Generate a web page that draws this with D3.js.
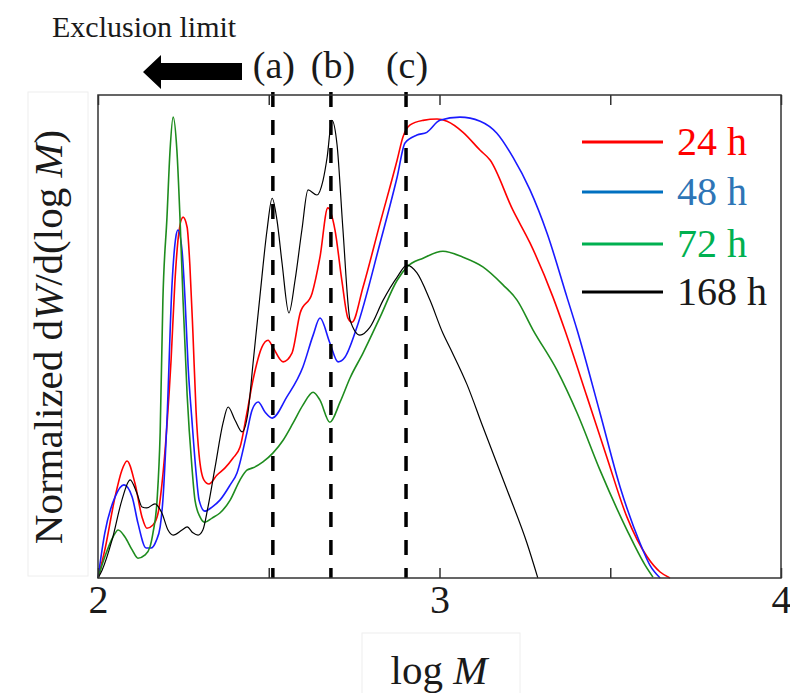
<!DOCTYPE html>
<html>
<head>
<meta charset="utf-8">
<script src="https://cdn.jsdelivr.net/npm/d3@7"></script>
<style>
  body { margin: 0; background: #fff; }
  svg text { font-family: "Liberation Serif", "Times New Roman", serif; fill: #1a1a1a; }
</style>
</head>
<body>
<div id="chart"></div>
<script>
// log M vs normalized dW/d(log M)
var h24 = [[2.000,0],[2.020,0.061],[2.050,0.176],[2.070,0.234],[2.085,0.254],[2.108,0.206],[2.129,0.132],[2.143,0.108],[2.161,0.115],[2.176,0.141],[2.187,0.202],[2.202,0.332],[2.214,0.473],[2.225,0.640],[2.237,0.751],[2.249,0.783],[2.261,0.761],[2.269,0.679],[2.278,0.531],[2.287,0.364],[2.296,0.267],[2.310,0.213],[2.325,0.204],[2.348,0.223],[2.372,0.239],[2.395,0.260],[2.416,0.284],[2.436,0.358],[2.454,0.430],[2.480,0.501],[2.498,0.516],[2.512,0.501],[2.542,0.469],[2.568,0.488],[2.592,0.575],[2.627,0.618],[2.650,0.696],[2.673,0.803],[2.694,0.755],[2.714,0.646],[2.732,0.564],[2.744,0.555],[2.776,0.631],[2.826,0.770],[2.876,0.907],[2.893,0.957],[2.914,0.983],[2.952,0.993],[2.993,0.996],[3.022,0.991],[3.069,0.967],[3.119,0.928],[3.148,0.907],[3.215,0.798],[3.265,0.727],[3.332,0.610],[3.367,0.538],[3.432,0.393],[3.490,0.262],[3.549,0.132],[3.608,0.046],[3.646,0.013],[3.675,0]];
var h48 = [[2.000,0],[2.020,0.098],[2.050,0.176],[2.076,0.202],[2.100,0.176],[2.117,0.119],[2.141,0.065],[2.155,0.065],[2.170,0.080],[2.182,0.111],[2.190,0.169],[2.202,0.343],[2.217,0.640],[2.228,0.740],[2.234,0.755],[2.246,0.711],[2.255,0.603],[2.264,0.458],[2.275,0.343],[2.287,0.230],[2.296,0.169],[2.313,0.145],[2.334,0.154],[2.357,0.169],[2.387,0.202],[2.407,0.228],[2.436,0.315],[2.451,0.364],[2.469,0.382],[2.489,0.360],[2.510,0.347],[2.553,0.393],[2.600,0.458],[2.630,0.527],[2.650,0.564],[2.679,0.510],[2.703,0.469],[2.723,0.479],[2.758,0.544],[2.826,0.727],[2.876,0.870],[2.899,0.944],[2.934,0.961],[2.963,0.967],[3.001,0.993],[3.060,1.000],[3.119,0.991],[3.168,0.965],[3.215,0.913],[3.265,0.842],[3.315,0.748],[3.373,0.610],[3.403,0.538],[3.470,0.358],[3.529,0.197],[3.587,0.076],[3.616,0.028],[3.646,0]];
var h72 = [[2.000,0],[2.020,0.046],[2.044,0.089],[2.059,0.104],[2.079,0.089],[2.100,0.061],[2.117,0.043],[2.138,0.050],[2.152,0.067],[2.161,0.098],[2.173,0.169],[2.182,0.315],[2.190,0.603],[2.202,0.783],[2.211,0.928],[2.220,1.000],[2.231,0.928],[2.240,0.783],[2.249,0.603],[2.261,0.397],[2.275,0.241],[2.284,0.169],[2.299,0.132],[2.313,0.121],[2.334,0.130],[2.357,0.141],[2.387,0.169],[2.416,0.213],[2.436,0.234],[2.454,0.239],[2.483,0.252],[2.512,0.271],[2.542,0.299],[2.571,0.336],[2.600,0.375],[2.630,0.403],[2.650,0.386],[2.679,0.338],[2.709,0.382],[2.738,0.434],[2.776,0.488],[2.826,0.566],[2.876,0.646],[2.905,0.675],[2.952,0.694],[3.010,0.709],[3.069,0.696],[3.127,0.675],[3.186,0.636],[3.227,0.603],[3.274,0.538],[3.344,0.451],[3.403,0.358],[3.470,0.234],[3.549,0.104],[3.602,0.028],[3.625,0.002]];
var h168 = [[2.000,0],[2.012,0.017],[2.041,0.082],[2.070,0.169],[2.094,0.213],[2.114,0.184],[2.129,0.154],[2.143,0.152],[2.167,0.161],[2.187,0.141],[2.205,0.104],[2.220,0.093],[2.246,0.104],[2.261,0.111],[2.278,0.098],[2.293,0.093],[2.307,0.104],[2.322,0.154],[2.343,0.241],[2.366,0.336],[2.381,0.371],[2.401,0.343],[2.422,0.317],[2.439,0.358],[2.454,0.466],[2.474,0.610],[2.495,0.755],[2.510,0.824],[2.524,0.777],[2.539,0.683],[2.559,0.575],[2.577,0.646],[2.597,0.755],[2.615,0.842],[2.641,0.831],[2.659,0.863],[2.671,0.913],[2.685,0.993],[2.700,0.940],[2.717,0.759],[2.738,0.560],[2.767,0.527],[2.796,0.544],[2.835,0.603],[2.876,0.653],[2.905,0.679],[2.934,0.662],[2.972,0.603],[3.010,0.531],[3.031,0.499],[3.081,0.419],[3.127,0.328],[3.198,0.191],[3.256,0.076],[3.288,0]];

var seriesNames = ["24 h", "48 h", "72 h", "168 h"];
var markers = [2.512, 2.682, 2.902];
var markerLabels = ["(a)", "(b)", "(c)"];
var xTicks = [2, 2.5, 3, 3.5, 4];

var width = 790, height = 693;
var margin = { top: 95, right: 9, bottom: 115, left: 98 };

var svg = d3.select("#chart").append("svg")
    .attr("width", width)
    .attr("height", height);

var x = d3.scaleLinear().domain([2, 4]).range([margin.left, width - margin.right]);
var y = d3.scaleLinear().domain([0, 1.048]).range([height - margin.bottom, margin.top]);

var lineColors = ["#ff0000", "#1a1aff", "#1e8c1e", "#000000"];
var lineWidths = [1.6, 1.6, 1.6, 1.2];
var legendColors = ["#ff0000", "#0070c0", "#00b050", "#000000"];
var textColors = ["#ff0000", "#2e75b6", "#00b050", "#1a1a1a"];

// faint boxes behind axis titles
svg.append("rect").attr("x", 28).attr("y", 92).attr("width", 60).attr("height", 484)
    .attr("fill", "none").attr("stroke", "#eeeeee");
svg.append("rect").attr("x", 362).attr("y", 633).attr("width", 158).attr("height", 70)
    .attr("fill", "none").attr("stroke", "#eeeeee");

var plot = svg.append("g");

var line = d3.line()
    .x(d => x(d[0]))
    .y(d => y(d[1]))
    .curve(d3.curveMonotoneX);

var allSeries = [h24, h48, h72, h168];

plot.selectAll("path.curve")
    .data(allSeries)
    .enter()
    .append("path")
    .attr("class", "curve")
    .attr("d", line)
    .attr("fill", "none")
    .attr("stroke", (d, i) => lineColors[i])
    .attr("stroke-width", (d, i) => lineWidths[i])
    .attr("stroke-linejoin", "round");

// dashed marker lines
plot.selectAll("line.marker")
    .data(markers)
    .enter()
    .append("line")
    .attr("class", "marker")
    .attr("x1", d => x(d)).attr("x2", d => x(d))
    .attr("y1", margin.top - 3).attr("y2", height - margin.bottom)
    .attr("stroke", "#000")
    .attr("stroke-width", 3.5)
    .attr("stroke-dasharray", "15,13");

svg.selectAll("text.mlabel")
    .data(markers)
    .enter()
    .append("text")
    .attr("class", "mlabel")
    .attr("x", (d, i) => x(d) + (i === 1 ? 2 : 1))
    .attr("y", 78)
    .attr("text-anchor", "middle")
    .style("font-size", "38px")
    .text((d, i) => markerLabels[i]);

// axes: inward ticks on bottom and top
var axisBottom = svg.append("g")
    .attr("transform", "translate(0," + (height - margin.bottom) + ")")
    .call(d3.axisBottom(x).tickValues(xTicks).tickSize(-10).tickPadding(7)
        .tickFormat(d => Number.isInteger(d) ? d : ""));
axisBottom.select(".domain").remove();
axisBottom.selectAll("text").style("font-size", "40px").style("font-family", "Liberation Serif").attr("fill", "#1a1a1a");
axisBottom.selectAll("line").attr("stroke", "#333").attr("stroke-width", 1.5);

var axisTop = svg.append("g")
    .attr("transform", "translate(0," + margin.top + ")")
    .call(d3.axisTop(x).tickValues(xTicks).tickSize(-10).tickFormat(""));
axisTop.select(".domain").remove();
axisTop.selectAll("line").attr("stroke", "#333").attr("stroke-width", 1.5);

svg.append("rect")
    .attr("x", x(2)).attr("y", y(1.048))
    .attr("width", x(4) - x(2)).attr("height", y(0) - y(1.048))
    .attr("fill", "none")
    .attr("stroke", "#333")
    .attr("stroke-width", 1.5);

// axis titles
var yTitle = svg.append("text")
    .attr("transform", "translate(62,337) rotate(-90)")
    .attr("text-anchor", "middle")
    .style("font-size", "41px");
yTitle.append("tspan").text("Normalized d");
yTitle.append("tspan").style("font-style", "italic").text("W");
yTitle.append("tspan").text("/d(log ");
yTitle.append("tspan").style("font-style", "italic").text("M");
yTitle.append("tspan").text(")");

var xTitle = svg.append("text")
    .attr("x", 439).attr("y", 684)
    .attr("text-anchor", "middle")
    .style("font-size", "41px");
xTitle.append("tspan").text("log ");
xTitle.append("tspan").style("font-style", "italic").text("M");

// exclusion limit note and arrow
svg.append("text")
    .attr("x", 52).attr("y", 37)
    .style("font-size", "30px")
    .text("Exclusion limit");

svg.append("path")
    .attr("d", "M143,72 L161,55 L161,63 L242,63 L242,80 L161,80 L161,89 Z")
    .attr("fill", "#000");

// legend
var legend = svg.append("g");
var legendY = [142, 192, 244, 292];

legend.selectAll("line")
    .data(seriesNames)
    .enter()
    .append("line")
    .attr("x1", 582).attr("x2", 663)
    .attr("y1", (d, i) => legendY[i]).attr("y2", (d, i) => legendY[i])
    .attr("stroke", (d, i) => legendColors[i])
    .attr("stroke-width", 3);

legend.selectAll("text")
    .data(seriesNames)
    .enter()
    .append("text")
    .attr("x", 677)
    .attr("y", (d, i) => legendY[i] + 13)
    .style("font-size", "40px")
    .style("fill", (d, i) => textColors[i])
    .text(d => d);
</script>
</body>
</html>
